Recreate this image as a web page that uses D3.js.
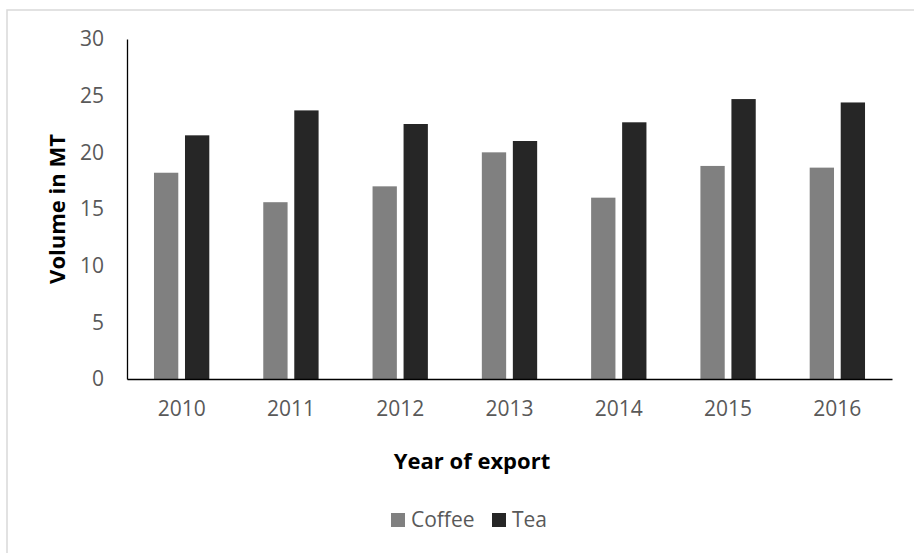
<!DOCTYPE html>
<html lang="en">
<head>
  <meta charset="utf-8" />
  <title>Coffee and Tea Export Volume</title>
  <script src="https://cdn.jsdelivr.net/npm/d3@7"></script>
  <style>
body{
  margin: 0;
  background: #ffffff;
}
svg text{
  font-family: "Open Sans", sans-serif;
}
  </style>
</head>
<body>
  <svg id="chart"></svg>
  <script>
  // chart data
  const years = ['2010', '2011', '2012', '2013', '2014', '2015', '2016'];
  const series = ['Coffee', 'Tea'];
  const coffee = [18.2, 15.6, 17.0, 20.0, 16.0, 18.8, 18.65];
  const tea = [21.5, 23.7, 22.5, 21.0, 22.65, 24.7, 24.4];
  const yTicks = [0, 5, 10, 15, 20, 25, 30];
  const colors = {Coffee: '#808080', Tea: '#262626'};

  const width = 914, height = 553;
  const svg = d3.select('#chart')
      .attr('width', width)
      .attr('height', height);

  // chart area border
  svg.append('rect')
      .attr('x', 7)
      .attr('y', 10)
      .attr('width', width)
      .attr('height', height)
      .attr('fill', 'none')
      .attr('stroke', '#d9d9d9')
      .attr('stroke-width', 1.5);

  const x0 = d3.scaleBand()
      .domain(years)
      .range([127, 892]);

  const x1 = d3.scaleBand()
      .domain(series)
      .range([0, x0.bandwidth()])
      .paddingInner(0.216)
      .paddingOuter(0.87);

  const y = d3.scaleLinear()
      .domain([0, 30])
      .range([379, 39]);

  const rows = years.map((yr, i) => ({year: yr, Coffee: coffee[i], Tea: tea[i]}));

  const group = svg.append('g')
    .selectAll('g')
    .data(rows)
    .enter().append('g')
      .attr('transform', d => `translate(${x0(d.year)},0)`);

  group.selectAll('rect')
    .data(d => series.map(s => ({key: s, value: d[s]})))
    .enter().append('rect')
      .attr('x', d => x1(d.key))
      .attr('y', d => y(d.value))
      .attr('width', x1.bandwidth())
      .attr('height', d => y(0) - y(d.value))
      .attr('fill', d => colors[d.key]);

  // y axis
  const yAxis = svg.append('g')
      .attr('transform', 'translate(127,0)')
      .call(d3.axisLeft(y).tickValues(yTicks).tickSize(0).tickPadding(23));
  yAxis.select('.domain').attr('stroke', '#000').attr('stroke-width', 1.3);
  yAxis.selectAll('text')
      .attr('fill', '#595959')
      .style('font-size', '21px');

  // x axis
  const xAxis = svg.append('g')
      .attr('transform', 'translate(0,379)')
      .call(d3.axisBottom(x0).tickSize(0).tickPadding(22));
  xAxis.select('.domain').attr('stroke', '#000').attr('stroke-width', 1.3);
  xAxis.selectAll('text')
      .attr('fill', '#595959')
      .style('font-size', '21px');

  // axis titles
  svg.append('text')
      .attr('transform', 'translate(57,209) rotate(-90)')
      .attr('text-anchor', 'middle')
      .attr('dy', '0.35em')
      .attr('font-weight', 'bold')
      .style('font-size', '22px')
      .attr('fill', '#000')
      .text('Volume in MT');

  svg.append('text')
      .attr('x', 472)
      .attr('y', 469)
      .attr('text-anchor', 'middle')
      .attr('font-weight', 'bold')
      .style('font-size', '22px')
      .attr('fill', '#000')
      .text('Year of export');

  // legend
  const legendX = [391, 492];
  const legend = svg.append('g')
    .selectAll('g')
    .data(series)
    .enter().append('g')
      .attr('transform', (d, i) => `translate(${legendX[i]},513)`);

  legend.append('rect')
      .attr('width', 14)
      .attr('height', 14)
      .attr('fill', d => colors[d]);

  legend.append('text')
      .attr('x', 20)
      .attr('y', 14)
      .attr('fill', '#595959')
      .style('font-size', '21px')
      .text(d => d);
  </script>
</body>
</html>
